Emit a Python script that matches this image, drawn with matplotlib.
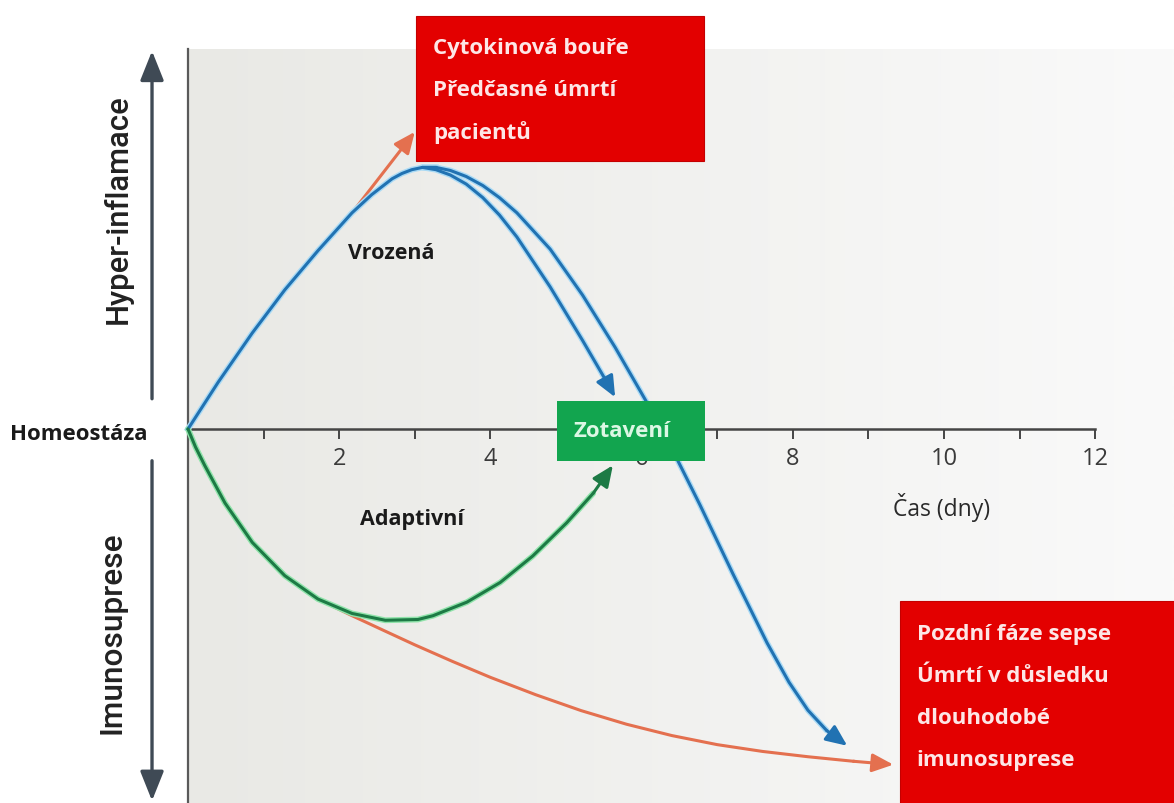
import numpy as np
import matplotlib
matplotlib.use("Agg")
import matplotlib.pyplot as plt
from matplotlib.patches import Rectangle

plt.rcParams['font.family'] = ['Open Sans', 'DejaVu Sans']

# ---------------- data (x in days, y = arbitrary response level) ----------------
rise_x = [0.00, 0.20, 0.40, 0.85, 1.28, 1.72, 2.17, 2.43, 2.70, 2.83, 2.96, 3.10]
rise_y = [0.00, 0.31, 0.62, 1.27, 1.84, 2.36, 2.86, 3.10, 3.31, 3.38, 3.43, 3.46]

recovery_x = [3.28, 3.47, 3.68, 3.90, 4.12, 4.35, 4.79, 5.22, 5.54, 5.65]
recovery_y = [3.43, 3.36, 3.24, 3.06, 2.83, 2.54, 1.88, 1.17, 0.62, 0.42]

late_x = [3.28, 3.47, 3.68, 3.90, 4.12, 4.35, 4.79, 5.22, 5.65, 6.07, 6.47, 6.77,
          7.21, 7.66, 7.95, 8.20, 8.45, 8.72]
late_y = [3.46, 3.42, 3.34, 3.22, 3.06, 2.86, 2.38, 1.77, 1.08, 0.35, -0.40, -1.00,
          -1.92, -2.83, -3.35, -3.72, -3.99, -4.19]

adapt_x = [0.00, 0.10, 0.22, 0.49, 0.85, 1.28, 1.72, 2.17, 2.61, 3.04, 3.24, 3.69,
           4.13, 4.56, 5.01, 5.36, 5.62]
adapt_y = [0.00, -0.24, -0.48, -0.98, -1.50, -1.94, -2.25, -2.44, -2.53, -2.52, -2.47,
           -2.29, -2.03, -1.68, -1.24, -0.85, -0.48]

storm_x = [1.72, 2.17, 3.00]
storm_y = [2.36, 2.86, 3.93]

sepsis_x = [1.72, 2.17, 2.60, 3.00, 3.50, 4.00, 4.60, 5.20, 5.80, 6.40, 7.00, 7.60,
            8.20, 8.80, 9.33]
sepsis_y = [-2.25, -2.47, -2.67, -2.855, -3.075, -3.285, -3.515, -3.725, -3.905, -4.055,
            -4.175, -4.265, -4.335, -4.395, -4.44]

x_ticks = list(range(1, 13))
x_tick_labels = ['', '2', '', '4', '', '6', '', '8', '', '10', '', '12']

storm_lines = ['Cytokinová bouře', 'Předčasné úmrtí', 'pacientů']
late_lines = ['Pozdní fáze sepse', 'Úmrtí v důsledku', 'dlouhodobé', 'imunosuprese']

# ---------------- figure ----------------
W, H = 1174, 804
fig = plt.figure(figsize=(W / 100, H / 100), dpi=100)
ax = fig.add_axes([0, 0, 1, 1])
ppu = 75.6            # pixels per unit
x0_px, y0_px = 188, 430
xmin, xmax = -x0_px / ppu, (W - x0_px) / ppu
ymin, ymax = (y0_px - H) / ppu, y0_px / ppu
panel_top = (y0_px - 50) / ppu

# gradient panel
grad = np.linspace(0, 1, 256)
c0 = np.array([233, 233, 229]) / 255
c1 = np.array([250, 250, 250]) / 255
img = (c0[None, :] * (1 - grad[:, None]) + c1[None, :] * grad[:, None])[None, :, :]
ax.imshow(img, extent=[0, xmax, ymin, panel_top], aspect='auto', zorder=0,
          interpolation='bilinear')
ax.set_xlim(xmin, xmax)
ax.set_ylim(ymin, ymax)

# spines as axes
for s in ['top', 'right']:
    ax.spines[s].set_visible(False)
ax.spines['left'].set_position(('data', 0))
ax.spines['left'].set_bounds(ymin, panel_top)
ax.spines['left'].set_color('#5a5a5a')
ax.spines['left'].set_linewidth(1.6)
ax.spines['bottom'].set_position(('data', 0))
ax.spines['bottom'].set_bounds(0, 12)
ax.spines['bottom'].set_color('#454545')
ax.spines['bottom'].set_linewidth(1.8)
ax.spines['left'].set_zorder(2)
ax.spines['bottom'].set_zorder(2)
ax.set_yticks([])
ax.set_xticks(x_ticks)
ax.set_xticklabels(x_tick_labels)
ax.tick_params(axis='x', direction='out', length=7, width=1.4, color='#454545',
               labelsize=17, labelcolor='#3a3a3a', pad=5)
ax.set_facecolor('white')

ARROW = '-|>,head_length=0.8,head_width=0.35'


def curve(xs, ys, core, halo, z):
    ax.plot(xs[:-1], ys[:-1], color=halo, lw=4.2, solid_capstyle='round',
            solid_joinstyle='round', zorder=z)
    ax.plot(xs[:-1], ys[:-1], color=core, lw=2.2, solid_capstyle='round',
            solid_joinstyle='round', zorder=z + 0.1)
    ax.annotate('', xy=(xs[-1], ys[-1]), xytext=(xs[-2], ys[-2]),
                arrowprops=dict(arrowstyle=ARROW, mutation_scale=16, color=core,
                                lw=2.2, shrinkA=0, shrinkB=0),
                zorder=z + 0.2)


def red_arrow(xs, ys):
    ax.plot(xs[:-1], ys[:-1], color=red_line, lw=2.2, solid_joinstyle='round', zorder=3)
    ax.annotate('', xy=(xs[-1], ys[-1]), xytext=(xs[-2], ys[-2]),
                arrowprops=dict(arrowstyle=ARROW, mutation_scale=16, color=red_line,
                                lw=2.2, shrinkA=0, shrinkB=0), zorder=3)


blue, blue_halo = '#2172b2', '#a9daf5'
green, green_halo = '#1d7a45', '#8fe3aa'
red_line = '#e4704f'

# red trajectories (under)
red_arrow(storm_x, storm_y)
red_arrow(sepsis_x, sepsis_y)

# blue innate curves
ax.plot(rise_x + late_x[:1], rise_y + late_y[:1], color=blue_halo, lw=4.2,
        solid_joinstyle='round', zorder=4)
ax.plot(rise_x + late_x[:1], rise_y + late_y[:1], color=blue, lw=2.2, zorder=4.1,
        solid_joinstyle='round')
curve([rise_x[-1]] + recovery_x, [rise_y[-1]] + recovery_y, blue, blue_halo, 4)
curve([rise_x[-1]] + late_x, [rise_y[-1]] + late_y, blue, blue_halo, 4)

# green adaptive curve
curve(adapt_x, adapt_y, green, green_halo, 4)

# boxes
ax.add_patch(Rectangle((3.02, 3.545), 3.81, 1.92, facecolor='#e30000',
                       edgecolor='#c40000', lw=0.8, zorder=6))
for i, t in enumerate(storm_lines):
    ax.text(3.24, 5.04 - i * 0.555, t, fontsize=16, fontweight='bold',
            color='#fde6e6', ha='left', va='center', zorder=7)

ax.add_patch(Rectangle((9.42, ymin - 0.2), 4.0, -2.275 - ymin + 0.2,
                       facecolor='#e30000', edgecolor='#c40000', lw=0.8, zorder=6))
for i, t in enumerate(late_lines):
    ax.text(9.64, -2.71 - i * 0.553, t, fontsize=16, fontweight='bold',
            color='#fde6e6', ha='left', va='center', zorder=7)

ax.add_patch(Rectangle((4.88, -0.423), 1.96, 0.793, facecolor='#12a54f',
                       edgecolor='none', zorder=6))
ax.text(5.74, -0.02, 'Zotavení', fontsize=16, fontweight='bold',
        color='#dcf7e4', ha='center', va='center', zorder=7)

# labels
ax.text(2.69, 2.34, 'Vrozená', fontsize=15.5, fontweight='bold', color='#1a1a1a',
        ha='center', va='center', zorder=5)
ax.text(2.96, -1.19, 'Adaptivní', fontsize=15.5, fontweight='bold', color='#1a1a1a',
        ha='center', va='center', zorder=5)
ax.text(9.97, -1.03, 'Čas (dny)', fontsize=16.5, color='#2a2a2a',
        ha='center', va='center', zorder=5)
ax.text(-1.44, -0.06, 'Homeostáza', fontsize=16, fontweight='bold', color='#1a1a1a',
        ha='center', va='center', zorder=5)
ax.text(-0.93, 2.92, 'Hyper-inflamace', fontsize=22.3, fontweight='medium',
        family=['Roboto', 'Open Sans', 'DejaVu Sans'],
        color='#222222', rotation=90, ha='center', va='center', zorder=5)
ax.text(-1.0, -2.68, 'Imunosuprese', fontsize=22.8, fontweight='medium',
        family=['Roboto', 'Open Sans', 'DejaVu Sans'],
        color='#222222', rotation=90, ha='center', va='center', zorder=5)

# vertical direction arrows
arrow_col = '#3f4a55'
ax.annotate('', xy=(-0.476, 5.0), xytext=(-0.476, 0.40),
            arrowprops=dict(arrowstyle='-|>,head_length=1.0,head_width=0.4',
                            mutation_scale=18, color=arrow_col, lw=2.4,
                            shrinkA=0, shrinkB=0))
ax.annotate('', xy=(-0.476, ymin + 0.03), xytext=(-0.476, -0.42),
            arrowprops=dict(arrowstyle='-|>,head_length=1.0,head_width=0.4',
                            mutation_scale=18, color=arrow_col, lw=2.4,
                            shrinkA=0, shrinkB=0))

fig.savefig('out.png', dpi=100, facecolor='white')
